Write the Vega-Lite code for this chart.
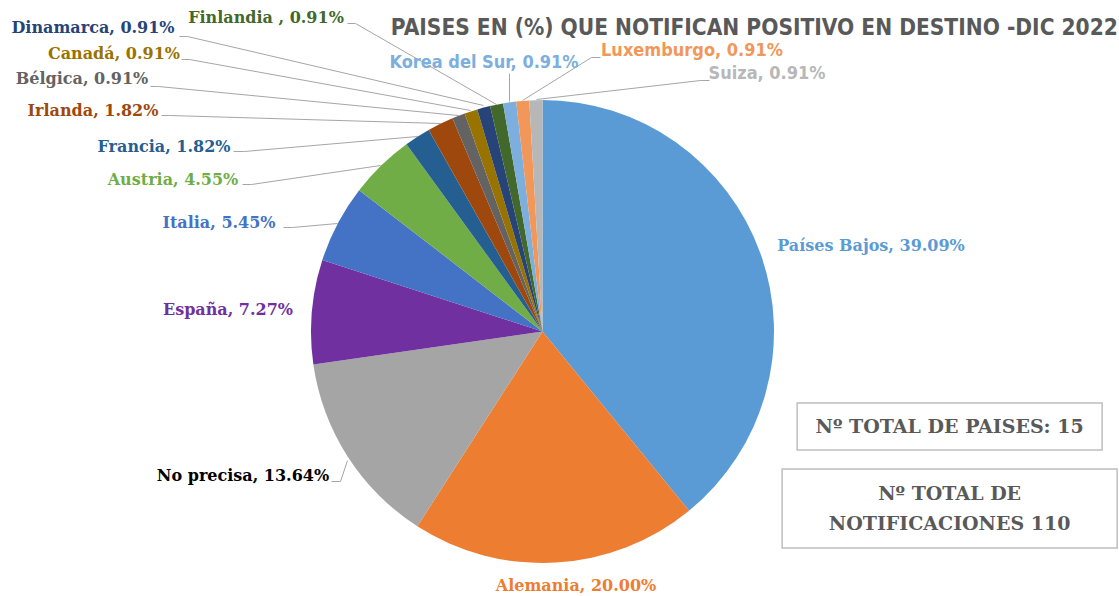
{
  "$schema": "https://vega.github.io/schema/vega-lite/v6.json",
  "background": "white",
  "padding": {"left": 11, "top": 10, "right": 3, "bottom": 0},
  "config": {"view": {"stroke": null}},
  "title": {
    "text": "PAISES EN (%) QUE NOTIFICAN POSITIVO EN DESTINO -DIC 2022",
    "anchor": "end",
    "font": "Liberation Sans Narrow, DejaVu Sans Condensed, Liberation Sans",
    "fontSize": 22.5,
    "fontWeight": "bold",
    "color": "#595959",
    "offset": -29
  },
  "datasets": {
    "paises": [
      {"orden": 1, "pais": "Países Bajos", "notificaciones": 43, "etiqueta": "Países Bajos, 39.09%"},
      {"orden": 2, "pais": "Alemania", "notificaciones": 22, "etiqueta": "Alemania, 20.00%"},
      {"orden": 3, "pais": "No precisa", "notificaciones": 15, "etiqueta": "No precisa, 13.64%"},
      {"orden": 4, "pais": "España", "notificaciones": 8, "etiqueta": "España, 7.27%"},
      {"orden": 5, "pais": "Italia", "notificaciones": 6, "etiqueta": "Italia, 5.45%"},
      {"orden": 6, "pais": "Austria", "notificaciones": 5, "etiqueta": "Austria, 4.55%"},
      {"orden": 7, "pais": "Francia", "notificaciones": 2, "etiqueta": "Francia, 1.82%"},
      {"orden": 8, "pais": "Irlanda", "notificaciones": 2, "etiqueta": "Irlanda, 1.82%"},
      {"orden": 9, "pais": "Bélgica", "notificaciones": 1, "etiqueta": "Bélgica, 0.91%"},
      {"orden": 10, "pais": "Canadá", "notificaciones": 1, "etiqueta": "Canadá, 0.91%"},
      {"orden": 11, "pais": "Dinamarca", "notificaciones": 1, "etiqueta": "Dinamarca, 0.91%"},
      {"orden": 12, "pais": "Finlandia", "notificaciones": 1, "etiqueta": "Finlandia , 0.91%"},
      {"orden": 13, "pais": "Korea del Sur", "notificaciones": 1, "etiqueta": "Korea del Sur, 0.91%"},
      {"orden": 14, "pais": "Luxemburgo", "notificaciones": 1, "etiqueta": "Luxemburgo, 0.91%"},
      {"orden": 15, "pais": "Suiza", "notificaciones": 1, "etiqueta": "Suiza, 0.91%"}
    ],
    "resumen": [
      {"id": 1, "texto": "Nº TOTAL DE PAISES: 15"},
      {"id": 2, "texto": "Nº TOTAL DE\nNOTIFICACIONES 110"}
    ]
  },
  "bounds": "flush",
  "spacing": 8,
  "hconcat": [
    {
      "width": 463,
      "height": 463,
      "data": {"name": "paises"},
      "encoding": {
        "color": {
          "field": "pais",
          "type": "nominal",
          "legend": null,
          "scale": {
            "domain": ["Países Bajos", "Alemania", "No precisa", "España", "Italia", "Austria", "Francia", "Irlanda", "Bélgica", "Canadá", "Dinamarca", "Finlandia", "Korea del Sur", "Luxemburgo", "Suiza"],
            "range": ["#5B9BD5", "#ED7D31", "#A5A5A5", "#7030A0", "#4472C4", "#70AD47", "#255E91", "#9E480E", "#636363", "#997300", "#264478", "#43682B", "#7CAFDD", "#F1975A", "#B7B7B7"]
          }
        }
      },
      "layer": [
        {
          "transform": [{"filter": "datum.orden == 3 || datum.orden >= 5"}],
          "mark": {"type": "point", "filled": false, "size": 4, "strokeWidth": 1, "opacity": 1},
          "encoding": {
            "color": {"value": "#A6A6A6"},
            "shape": {
              "field": "pais",
              "type": "nominal",
              "legend": null,
              "scale": {
                "domain": ["No precisa", "Italia", "Austria", "Francia", "Irlanda", "Bélgica", "Canadá", "Dinamarca", "Finlandia", "Korea del Sur", "Luxemburgo", "Suiza"],
                "range": [
                  "M-211,150L-202,150L-195,129",
                  "M-259,-104L-250,-104L-205,-108",
                  "M-300,-147L-291,-147L-162,-166",
                  "M-309,-180L-298,-180L-125,-195",
                  "M-381,-216L-373,-216L-102,-208",
                  "M-392,-245L-384,-245L-84,-216",
                  "M-361,-272L-353,-272L-72,-221",
                  "M-363,-295L-355,-295L-59,-226",
                  "M-195,-308L-187,-308L-46,-227",
                  "M-33,-258L-33,-230",
                  "M58,-274L49,-274L-20,-231",
                  "M167,-251L158,-251L-6,-232"
                ]
              }
            }
          }
        },
        {
          "mark": {"type": "arc"},
          "encoding": {
            "theta": {"field": "notificaciones", "type": "quantitative", "stack": true},
            "order": {"field": "orden", "type": "quantitative", "sort": "ascending"}
          }
        },
        {
          "transform": [{"filter": "datum.orden <= 12"}],
          "mark": {"type": "text", "font": "DejaVu Serif", "fontWeight": "bold", "fontSize": 16, "baseline": "middle", "align": "center"},
          "encoding": {
            "x": {"field": "orden", "type": "quantitative", "axis": null,
              "scale": {"zero": false, "nice": false, "domain": [1, 2, 3, 4, 5, 6, 7, 8, 9, 10, 11, 12, 13, 14, 15],
                "range": [560, 265, -68, -83, -92, -138, -147, -218, -229, -197, -218, -45, 173, 381, 456]}},
            "y": {"field": "orden", "type": "quantitative", "axis": null,
              "scale": {"zero": false, "nice": false, "domain": [1, 2, 3, 4, 5, 6, 7, 8, 9, 10, 11, 12, 13, 14, 15],
                "range": [146, 486, 376, 210, 123, 80, 47, 11, -21, -46, -72, -82, -37, -49, -26]}},
            "text": {"field": "etiqueta"},
            "color": {"condition": {"test": "datum.pais === 'No precisa'", "value": "#000000"}, "field": "pais", "type": "nominal", "legend": null}
          }
        },
        {
          "transform": [{"filter": "datum.orden >= 13"}],
          "mark": {"type": "text", "font": "Liberation Sans Narrow, DejaVu Sans Condensed, Liberation Sans", "fontWeight": "bold", "fontSize": 18, "baseline": "middle", "align": "center"},
          "encoding": {
            "x": {"field": "orden", "type": "quantitative", "axis": null},
            "y": {"field": "orden", "type": "quantitative", "axis": null},
            "text": {"field": "etiqueta"},
            "color": {"field": "pais", "type": "nominal", "legend": null}
          }
        }
      ]
    },
    {
      "center": true,
      "spacing": 17,
      "vconcat": [
        {
          "width": 300,
          "height": 285,
          "data": {"values": []},
          "mark": {"type": "text"},
          "encoding": {}
        },
        {
          "width": 305,
          "height": 47,
          "view": {"stroke": "#BFBFBF", "strokeWidth": 1.5},
          "data": {"name": "resumen"},
          "transform": [{"filter": "datum.id == 1"}],
          "mark": {"type": "text", "font": "DejaVu Serif", "fontWeight": "bold", "fontSize": 19, "color": "#595959", "baseline": "middle", "align": "center"},
          "encoding": {"text": {"field": "texto"}}
        },
        {
          "width": 335,
          "height": 79,
          "view": {"stroke": "#BFBFBF", "strokeWidth": 1.5},
          "data": {"name": "resumen"},
          "transform": [{"filter": "datum.id == 2"}],
          "mark": {"type": "text", "font": "DejaVu Serif", "fontWeight": "bold", "fontSize": 19, "color": "#595959", "baseline": "middle", "align": "center", "lineBreak": "\n", "lineHeight": 30, "dy": -15},
          "encoding": {"text": {"field": "texto"}}
        }
      ]
    }
  ]
}
